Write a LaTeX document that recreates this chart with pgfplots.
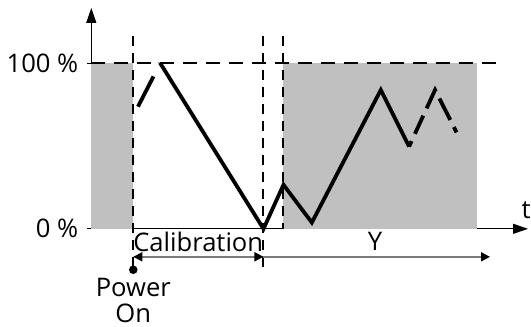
\documentclass[border=0pt]{standalone}
\usepackage{fontspec}
\setmainfont{Open Sans}
\usepackage{pgfplots}
\pgfplotsset{compat=1.18}
\usetikzlibrary{arrows.meta}
\definecolor{fillgray}{HTML}{C0C0C0}
\definecolor{arrowgray}{HTML}{7A7A7A}
\begin{document}
\begin{tikzpicture}[font=\fontsize{12.8}{15}\selectfont]
\begin{axis}[
    x=0.5pt, y=0.8285pt,
    xmin=91, xmax=528, ymin=0, ymax=133.4,
    axis lines=left,
    axis line style={line width=0.5pt, -{Triangle[length=7.5pt,width=5pt]}},
    xtick=\empty,
    ytick={0,100}, yticklabels={0 \%, 100 \%},
    tick align=outside, major tick length=2pt,
    tick style={line width=0.5pt, black},
    yticklabel style={xshift=-1pt},
    /pgf/number format/assume math mode=true,
    clip=false,
  ]
  % invisible frame to keep the page proportions
  \path (axis cs:0,138.2) rectangle (axis cs:531,-59.1);
  % shaded regions
  \addplot[fill=fillgray, draw=none] coordinates {(91,0) (91,100) (133,100) (133,0)} -- cycle;
  \addplot[fill=fillgray, draw=none] coordinates {(283.3,0) (283.3,100) (476.7,100) (476.7,0)} -- cycle;
  % dashed guides
  \addplot[black, line width=1pt, dash pattern=on 7pt off 4.5pt] coordinates {(91,100) (505,100)};
  \addplot[black, line width=1pt, dash pattern=on 5pt off 3.5pt] coordinates {(133,116.5) (133,-20.5)};
  \addplot[black, line width=1pt, dash pattern=on 5pt off 3.5pt] coordinates {(263.3,116.5) (263.3,-24.7)};
  \addplot[black, line width=1pt, dash pattern=on 5pt off 3.5pt] coordinates {(283.3,116.5) (283.3,0)};
  % signal
  \addplot[black, line width=1.9pt, line join=miter] coordinates {
    (160,100) (263.3,0) (283.3,26.6) (311.7,3.8) (380.7,83.9) (409,49.7)};
  \addplot[black, line width=1.9pt, dash pattern=on 17pt off 7pt] coordinates {(137.7,73.8) (160,100)};
  \addplot[black, line width=1.9pt, line join=miter, dash pattern=on 3pt off 4pt on 10pt off 4pt on 11pt off 4pt on 12pt off 4pt] coordinates {
    (409,49.7) (435,83.9) (457.3,57.3)};
  % power on marker
  \addplot[black, line width=1pt, mark=*, mark size=1.6pt, mark indices={2}] coordinates {(133,-16.9) (133,-24.7)};
  % duration arrows
  \addplot[arrowgray, line width=0.8pt,
    {Triangle[length=4.5pt,width=4.5pt,color=black]}-{Triangle[length=4.5pt,width=4.5pt,color=black]}]
    coordinates {(133,-16.9) (263.3,-16.9)};
  \addplot[arrowgray, line width=0.8pt, -{Triangle[length=4.5pt,width=4.5pt,color=black]}]
    coordinates {(263.3,-16.9) (490,-16.9)};
  % labels
  \node at (axis cs:198,-7.8) {Calibration};
  \node at (axis cs:375,-7.8) {Y};
  \node[align=center, inner sep=0pt] at (axis cs:133,-43.2) {Power\\[-2pt]On};
  \node[anchor=east, inner sep=0pt] at (axis cs:531,11.5) {t};
\end{axis}
\end{tikzpicture}
\end{document}
